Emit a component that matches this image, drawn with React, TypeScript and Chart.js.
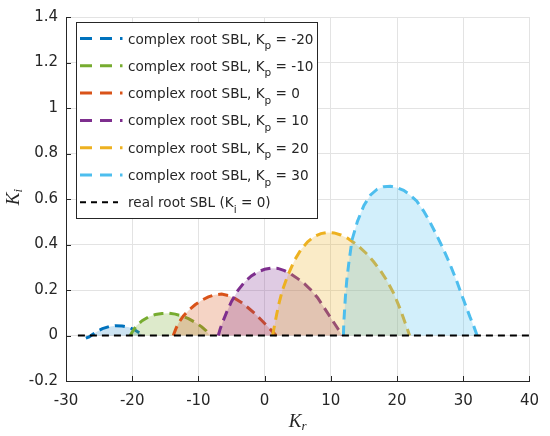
import React, { useEffect, useRef } from "react";
import { Chart, registerables } from "chart.js";

Chart.register(...registerables);

// ---- data ----
const kpValues = [-20, -10, 0, 10, 20, 30];

const blueX = [-27.0, -26.5, -26.0, -25.3, -24.5, -23.5, -22.5, -21.5, -20.5, -19.7, -19.0, -18.3];
const blueY = [-0.012, -0.006, 0.004, 0.018, 0.03, 0.039, 0.043, 0.042, 0.036, 0.026, 0.013, 0];

const greenX = [-20.3, -19.8, -19.3, -18.5, -17.5, -16.5, -15.5, -14.5, -13.5, -12.5, -11.5, -10.5, -9.5, -8.8, -8.3];
const greenY = [0, 0.025, 0.045, 0.065, 0.082, 0.092, 0.097, 0.098, 0.094, 0.086, 0.074, 0.058, 0.038, 0.02, 0];

const orangeX = [-13.8, -13.4, -13.0, -12.3, -11.5, -10.5, -9.5, -8.5, -7.5, -6.5, -5.5, -4.5, -3.5, -2.5, -1.5, -0.5, 0.5, 1.2, 1.75];
const orangeY = [0, 0.03, 0.055, 0.085, 0.11, 0.135, 0.155, 0.17, 0.179, 0.182, 0.176, 0.163, 0.145, 0.122, 0.097, 0.068, 0.038, 0.017, 0];

const purpleX = [-7.0, -6.7, -6.3, -5.7, -5.0, -4.0, -3.0, -2.0, -1.0, 0, 1.0, 2.0, 3.0, 4.0, 5.0, 6.0, 7.0, 8.0, 9.0, 10.0, 11.0, 11.7];
const purpleY = [0, 0.03, 0.062, 0.105, 0.15, 0.2, 0.236, 0.262, 0.28, 0.291, 0.296, 0.295, 0.285, 0.27, 0.25, 0.228, 0.2, 0.166, 0.122, 0.077, 0.033, 0];

const yellowX = [1.2, 1.5, 1.8, 2.2, 2.7, 3.5, 4.5, 5.5, 6.5, 7.5, 8.5, 9.5, 10.5, 11.5, 12.5, 13.5, 14.5, 15.5, 16.5, 17.5, 18.5, 19.5, 20.5, 21.3, 21.9];
const yellowY = [0, 0.045, 0.09, 0.145, 0.2, 0.264, 0.33, 0.378, 0.412, 0.435, 0.448, 0.453, 0.451, 0.442, 0.428, 0.408, 0.384, 0.357, 0.323, 0.285, 0.24, 0.185, 0.115, 0.05, 0];

const cyanX = [11.9, 11.95, 12.05, 12.2, 12.4, 12.7, 13.2, 14.0, 15.0, 16.0, 17.0, 18.0, 19.0, 20.0, 21.0, 22.0, 23.0, 24.0, 25.0, 26.0, 27.0, 28.0, 29.0, 30.0, 31.0, 31.6, 32.1];
const cyanY = [0, 0.05, 0.1, 0.17, 0.24, 0.315, 0.42, 0.5, 0.572, 0.618, 0.643, 0.654, 0.656, 0.65, 0.638, 0.617, 0.59, 0.548, 0.497, 0.44, 0.38, 0.313, 0.24, 0.16, 0.083, 0.04, 0];

const realX = [-28.2, 40];
const realY = [0, 0];

const xMin = -30, xMax = 40, xStep = 10;
const yMin = -0.2, yMax = 1.4, yStep = 0.2;

const seriesX = [blueX, greenX, orangeX, purpleX, yellowX, cyanX];
const seriesY = [blueY, greenY, orangeY, purpleY, yellowY, cyanY];
const lineColors = ["#0072BD", "#77AC30", "#D95319", "#7E2F8E", "#EDB120", "#4DBEEE"];
const fillColors = [
  "rgba(0,114,189,0.2)",
  "rgba(119,172,48,0.25)",
  "rgba(217,83,25,0.25)",
  "rgba(126,47,142,0.25)",
  "rgba(237,177,32,0.25)",
  "rgba(77,190,238,0.25)",
];

const TEXT = "#262626";
const SANS = '"DejaVu Sans"';

const toPoints = (xs: number[], ys: number[]) => xs.map((x, i) => ({ x, y: ys[i] }));

const overlay = {
  id: "overlay",
  afterDraw(chart: any) {
    const ctx = chart.ctx as CanvasRenderingContext2D;
    const xs = chart.scales.x;
    const ys = chart.scales.y;
    const { left, bottom } = chart.chartArea;
    ctx.save();
    // inward ticks
    ctx.strokeStyle = TEXT;
    ctx.lineWidth = 1;
    ctx.setLineDash([]);
    ctx.beginPath();
    for (const t of xs.ticks) {
      const p = Math.round(xs.getPixelForValue(t.value)) + 0.5;
      ctx.moveTo(p, bottom);
      ctx.lineTo(p, bottom - 5);
    }
    for (const t of ys.ticks) {
      const p = Math.round(ys.getPixelForValue(t.value)) + 0.5;
      ctx.moveTo(left, p);
      ctx.lineTo(left + 5, p);
    }
    ctx.stroke();

    // legend
    const bx = 76.5, by = 22.5, bw = 241, bh = 196;
    ctx.fillStyle = "#ffffff";
    ctx.fillRect(bx, by, bw, bh);
    ctx.strokeStyle = TEXT;
    ctx.lineWidth = 1;
    ctx.strokeRect(bx, by, bw, bh);

    const rows = kpValues.length + 1;
    for (let i = 0; i < rows; i++) {
      const ry = 38.5 + i * 27.3;
      const isReal = i === kpValues.length;
      ctx.beginPath();
      if (isReal) {
        ctx.strokeStyle = "#000000";
        ctx.lineWidth = 2;
        ctx.setLineDash([6, 5]);
        ctx.moveTo(80, ry);
        ctx.lineTo(118, ry);
      } else {
        ctx.strokeStyle = lineColors[i];
        ctx.lineWidth = 3;
        ctx.setLineDash([12, 8]);
        ctx.moveTo(80, ry);
        ctx.lineTo(122.5, ry);
      }
      ctx.stroke();
      ctx.setLineDash([]);

      const main = isReal ? "real root SBL (K" : "complex root SBL, K";
      const sub = isReal ? "i" : "p";
      const rest = isReal ? " = 0)" : " = " + kpValues[i];
      ctx.fillStyle = TEXT;
      ctx.textBaseline = "alphabetic";
      ctx.textAlign = "left";
      ctx.font = `13.6px ${SANS}`;
      let tx = 128;
      const base = ry + 5;
      ctx.fillText(main, tx, base);
      tx += ctx.measureText(main).width;
      ctx.font = `10.5px ${SANS}`;
      ctx.fillText(sub, tx, base + 5.5);
      tx += ctx.measureText(sub).width;
      ctx.font = `13.6px ${SANS}`;
      ctx.fillText(rest, tx, base);
    }

    // axis titles (LaTeX style)
    ctx.fillStyle = TEXT;
    ctx.textBaseline = "alphabetic";
    ctx.textAlign = "left";
    // K_r
    ctx.font = 'italic 19px "Liberation Serif"';
    const kw = ctx.measureText("K").width;
    ctx.font = 'italic 13px "Liberation Serif"';
    const rw = ctx.measureText("r").width;
    const totalX = kw + rw;
    const cx = (chart.chartArea.left + chart.chartArea.right) / 2;
    const sx = cx - totalX / 2;
    ctx.font = 'italic 19px "Liberation Serif"';
    ctx.fillText("K", sx, 427);
    ctx.font = 'italic 13px "Liberation Serif"';
    ctx.fillText("r", sx + kw, 430);

    // K_i rotated
    ctx.save();
    ctx.translate(19, 197);
    ctx.rotate(-Math.PI / 2);
    ctx.font = 'italic 19px "Liberation Serif"';
    const kw2 = ctx.measureText("K").width;
    ctx.font = 'italic 13px "Liberation Serif"';
    const iw = ctx.measureText("i").width;
    const tot2 = kw2 + iw;
    ctx.font = 'italic 19px "Liberation Serif"';
    ctx.fillText("K", -tot2 / 2, 0);
    ctx.font = 'italic 13px "Liberation Serif"';
    ctx.fillText("i", -tot2 / 2 + kw2, 3);
    ctx.restore();

    ctx.restore();
  },
};

export default function App() {
  const ref = useRef<HTMLCanvasElement | null>(null);

  useEffect(() => {
    if (!ref.current) return;
    const datasets: any[] = seriesX.map((xs, i) => ({
      label: `complex root SBL, Kp = ${kpValues[i]}`,
      data: toPoints(xs, seriesY[i]),
      showLine: true,
      borderColor: lineColors[i],
      backgroundColor: fillColors[i],
      borderWidth: 3,
      borderDash: [10, 6],
      pointRadius: 0,
      fill: "origin",
      tension: 0,
      order: kpValues.length - i,
    }));
    datasets.push({
      label: "real root SBL (Ki = 0)",
      data: toPoints(realX, realY),
      showLine: true,
      borderColor: "#000000",
      borderWidth: 2.2,
      borderDash: [7, 5],
      pointRadius: 0,
      fill: false,
      order: 0,
    });

    const chart = new Chart(ref.current, {
      type: "scatter",
      data: { datasets },
      options: {
        animation: false,
        responsive: false,
        events: [],
        layout: { padding: { top: 13, right: 16, left: 0, bottom: 0 } },
        plugins: {
          legend: { display: false },
          tooltip: { enabled: false },
          title: { display: false },
        },
        scales: {
          x: {
            type: "linear",
            min: xMin,
            max: xMax,
            ticks: {
              stepSize: xStep,
              color: TEXT,
              font: { family: SANS, size: 15 },
              padding: 11,
            },
            grid: { color: "#e3e3e3", drawTicks: false, lineWidth: 1 },
            border: { color: TEXT, width: 1 },
            afterFit: (s: any) => {
              s.height = 55;
            },
          },
          y: {
            type: "linear",
            min: yMin,
            max: yMax,
            ticks: {
              stepSize: yStep,
              color: TEXT,
              font: { family: SANS, size: 15 },
              padding: 8,
              callback: (v: any) => String(Math.round(Number(v) * 10) / 10),
            },
            grid: { color: "#e3e3e3", drawTicks: false, lineWidth: 1 },
            border: { color: TEXT, width: 1 },
            afterFit: (s: any) => {
              s.width = 66;
            },
          },
        },
      },
      plugins: [overlay],
    });
    return () => chart.destroy();
  }, []);

  return (
    <div style={{ position: "fixed", left: 0, top: 0, width: 550, height: 436, background: "#fff" }}>
      <canvas ref={ref} width={550} height={436} style={{ width: 550, height: 436, display: "block" }} />
    </div>
  );
}
